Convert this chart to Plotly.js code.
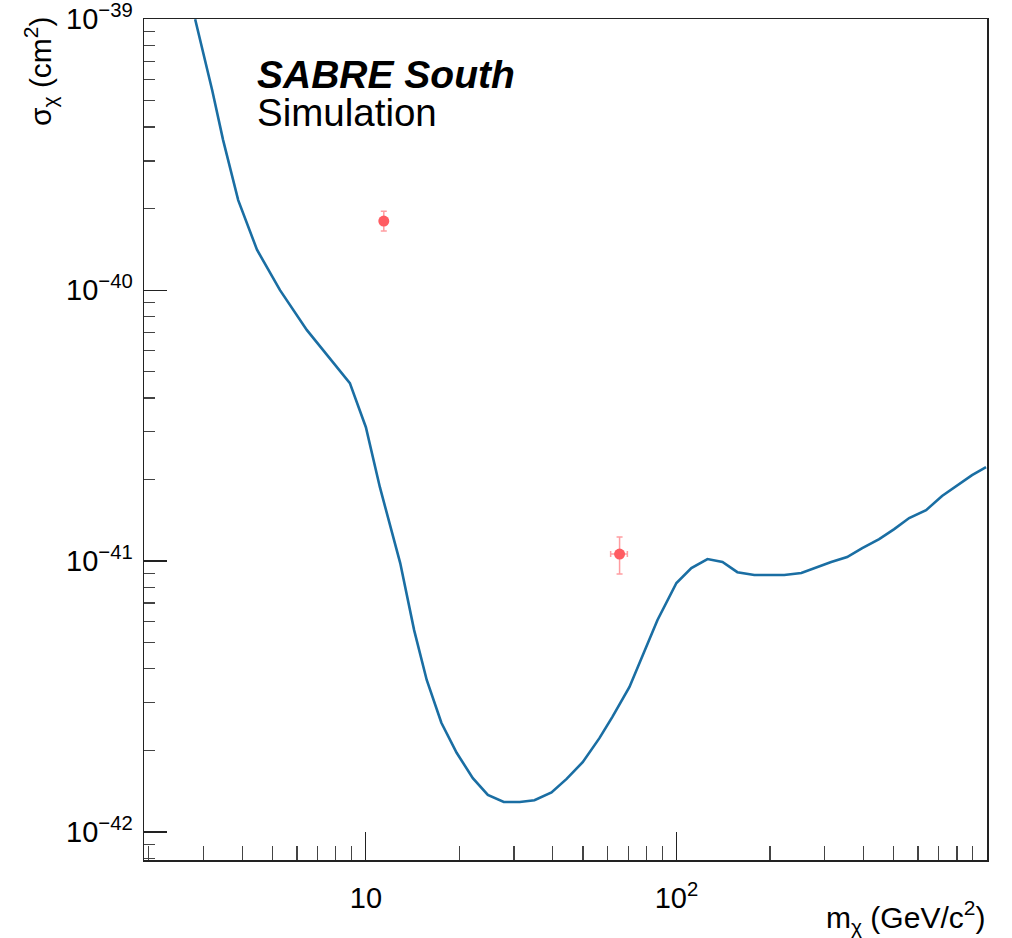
<!DOCTYPE html>
<html>
<head>
<meta charset="utf-8">
<script src="https://cdn.plot.ly/plotly-3.0.1.min.js"></script>
<style>html,body{margin:0;padding:0;background:#fff;}#chart{width:1012px;height:938px;}</style>
</head>
<body>
<div id="chart"></div>
<script>
// Exclusion / sensitivity curve
const massCurve = [2.82, 3.20, 3.47, 3.88, 4.46, 5.29, 6.46, 7.83, 8.88, 10.0, 11.1, 12.9, 14.3, 15.7, 17.5,
  19.6, 22.1, 24.7, 27.8, 31.3, 34.9, 39.6, 44.3, 49.9, 56.5, 62.2, 70.6, 86.9, 100, 111.7, 125.9, 140.7,
  157.1, 178.1, 222.4, 252.4, 277.9, 315, 354.5, 396.6, 449.6, 502.6, 561.5, 636.6, 716.6, 812.8, 895, 993];
const sigmaCurve = [1.0e-39, 5.47e-40, 3.58e-40, 2.15e-40, 1.41e-40, 1.0e-40, 7.12e-41, 5.42e-41, 4.54e-41,
  3.12e-41, 1.87e-41, 9.83e-42, 5.56e-42, 3.64e-42, 2.53e-42,
  1.96e-42, 1.58e-42, 1.37e-42, 1.29e-42, 1.29e-42, 1.31e-42, 1.40e-42, 1.57e-42, 1.81e-42, 2.22e-42,
  2.66e-42, 3.43e-42, 6.06e-42, 8.3e-42, 9.42e-42, 1.017e-41, 9.92e-42, 9.10e-42, 8.88e-42, 8.88e-42,
  9.03e-42, 9.42e-42, 9.92e-42, 1.035e-41, 1.117e-41, 1.205e-41, 1.312e-41, 1.442e-41, 1.542e-41,
  1.738e-41, 1.924e-41, 2.077e-41, 2.222e-41];

// Simulated signal points with errors
const pointMass = [11.42, 65.6];
const pointMassErrLow = [0.2, 4.2];
const pointMassErrHigh = [0.2, 3.9];
const pointSigma = [1.80e-40, 1.061e-41];
const pointSigmaErrLow = [0.148e-40, 0.165e-41];
const pointSigmaErrHigh = [0.157e-40, 0.166e-41];

// Axis ticks
const xMajorVals = [10, 100];
const xMajorText = ['10', '10<sup>2</sup>'];
const yMajorVals = [1e-42, 1e-41, 1e-40, 1e-39];
const yMajorText = ['10<sup>\u221242</sup>', '10<sup>\u221241</sup>', '10<sup>\u221240</sup>', '10<sup>\u221239</sup>'];

function minorVals(fromExp, toExp) {
  const out = [];
  for (let e = fromExp; e <= toExp; e++) {
    for (let d = 2; d <= 9; d++) out.push(d * Math.pow(10, e));
  }
  return out;
}

const font = 'Liberation Sans, Arial, Helvetica, sans-serif';

const traces = [
  {
    x: massCurve, y: sigmaCurve, type: 'scatter', mode: 'lines',
    line: {color: '#1a6ea3', width: 2.6}, hoverinfo: 'x+y', showlegend: false
  },
  {
    x: pointMass, y: pointSigma, type: 'scatter', mode: 'markers',
    marker: {color: '#ff5c62', size: 11},
    error_x: {type: 'data', symmetric: false, array: pointMassErrHigh, arrayminus: pointMassErrLow,
      color: 'rgba(255,92,98,0.6)', thickness: 1.5, width: 3},
    error_y: {type: 'data', symmetric: false, array: pointSigmaErrHigh, arrayminus: pointSigmaErrLow,
      color: 'rgba(255,92,98,0.6)', thickness: 1.5, width: 3},
    showlegend: false
  }
];

const axisCommon = {
  type: 'log', showgrid: false, zeroline: false,
  showline: true, mirror: true, linecolor: '#222', linewidth: 1.5,
  ticks: 'inside', tickcolor: '#222', tickwidth: 1.2,
  tickfont: {family: font, size: 29, color: '#000'},
  tickmode: 'array', ticklabeloverflow: 'allow'
};

const layout = {
  width: 1012, height: 938,
  margin: {l: 144, r: 25, t: 19, b: 78, pad: 0},
  paper_bgcolor: '#fff', plot_bgcolor: '#fff',
  font: {family: font, color: '#000'},
  xaxis: Object.assign({}, axisCommon, {
    range: [Math.log10(1.93), 3.0],
    tickvals: xMajorVals, ticktext: xMajorText, ticklen: 28,
    ticklabelstandoff: 12,
    minor: {tickmode: 'array', tickvals: minorVals(0, 2), ticks: 'inside', ticklen: 14, tickcolor: '#444', tickwidth: 1.2}
  }),
  yaxis: Object.assign({}, axisCommon, {
    range: [Math.log10(7.88e-43), -38.999],
    tickvals: yMajorVals, ticktext: yMajorText, ticklen: 23,
    ticklabelstandoff: 4,
    minor: {tickmode: 'array', tickvals: minorVals(-43, -40), ticks: 'inside', ticklen: 11, tickcolor: '#444', tickwidth: 1.2}
  }),
  annotations: [
    {text: '<b><i>SABRE South</i></b>', xref: 'paper', yref: 'paper',
      x: (255 - 144) / 843, y: (860 - 75) / 841, xanchor: 'left', yanchor: 'middle',
      showarrow: false, font: {family: font, size: 39, color: '#000'}},
    {text: 'Simulation', xref: 'paper', yref: 'paper',
      x: (255 - 144) / 843, y: (860 - 112) / 841, xanchor: 'left', yanchor: 'middle',
      showarrow: false, font: {family: font, size: 38.5, color: '#000'}},
    {text: 'm<sub>\u03c7</sub> (GeV/c<sup>2</sup>)', xref: 'paper', yref: 'paper',
      x: 1.0, y: (860 - 917) / 841, xanchor: 'right', yanchor: 'middle',
      showarrow: false, font: {family: font, size: 30, color: '#000'}},
    {text: '\u03c3<sub>\u03c7</sub> (cm<sup>2</sup>)', xref: 'paper', yref: 'paper', textangle: -90,
      x: (40 - 144) / 843, y: (860 - 14) / 841, xanchor: 'center', yanchor: 'top',
      showarrow: false, font: {family: font, size: 30, color: '#000'}}
  ]
};

Plotly.newPlot('chart', traces, layout, {staticPlot: true, displayModeBar: false});
</script>
</body>
</html>
